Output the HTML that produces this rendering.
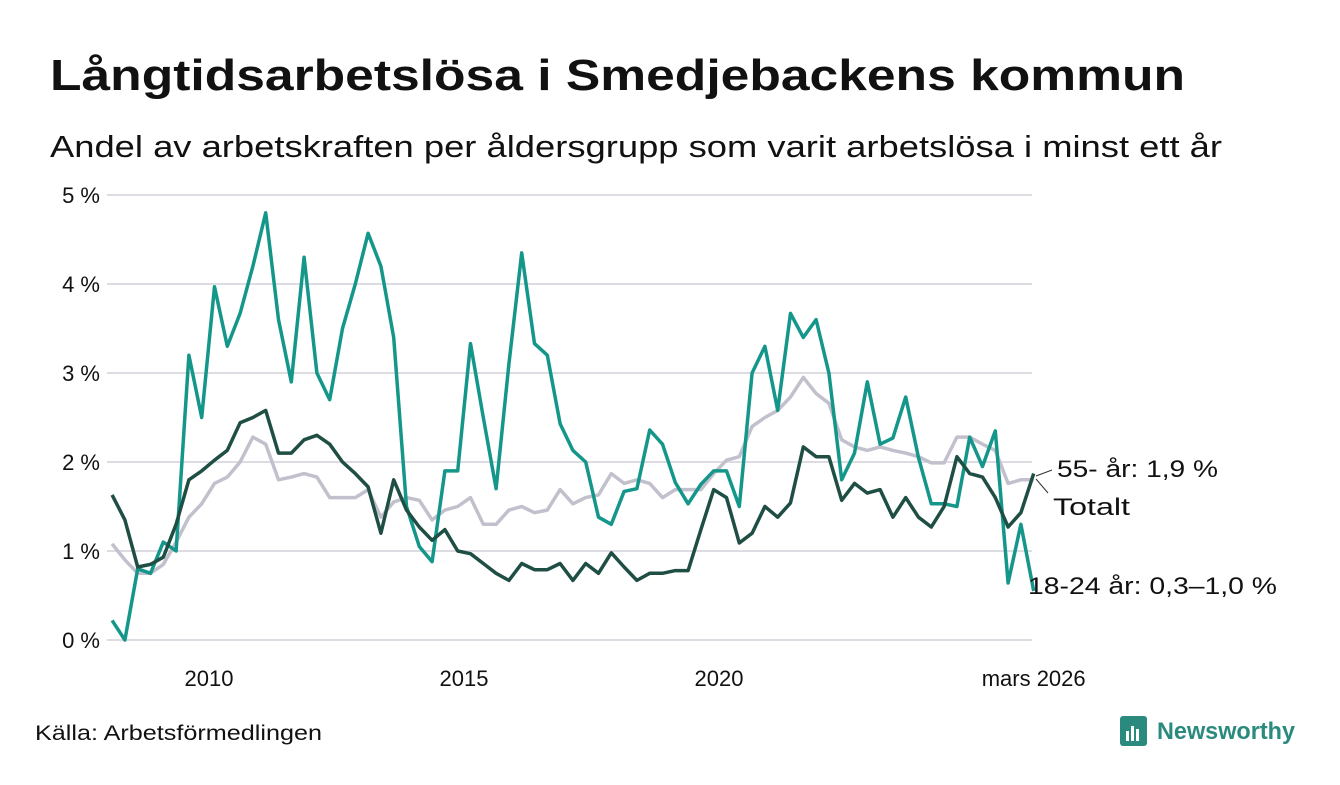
<!DOCTYPE html>
<html><head><meta charset="utf-8">
<style>
body{margin:0;background:#fff;width:1340px;height:780px;overflow:hidden;font-family:"Liberation Sans",sans-serif;}
svg text{font-family:"Liberation Sans",sans-serif;}
</style></head>
<body>
<svg id="chart" width="1340" height="780">
<text x="50" y="90" font-size="44" font-weight="bold" fill="#111" textLength="1135" lengthAdjust="spacingAndGlyphs">Långtidsarbetslösa i Smedjebackens kommun</text>
<text x="50" y="157" font-size="31" fill="#111" textLength="1172" lengthAdjust="spacingAndGlyphs">Andel av arbetskraften per åldersgrupp som varit arbetslösa i minst ett år</text>
<g id="grid"></g>
<g id="series"></g>
<g id="labels">
<line x1="1036" y1="476" x2="1052" y2="470" stroke="#333" stroke-width="1"/>
<line x1="1036" y1="479" x2="1048" y2="493" stroke="#333" stroke-width="1"/>
<text x="1057" y="477" font-size="24" fill="#111" textLength="161" lengthAdjust="spacingAndGlyphs">55- år: 1,9 %</text>
<text x="1053" y="515" font-size="24" fill="#111" textLength="77" lengthAdjust="spacingAndGlyphs">Totalt</text>
<text x="1028" y="594" font-size="24" fill="#111" textLength="249" lengthAdjust="spacingAndGlyphs">18-24 år: 0,3–1,0 %</text>
</g>
<text x="35" y="740" font-size="21" fill="#111" textLength="287" lengthAdjust="spacingAndGlyphs">Källa: Arbetsförmedlingen</text>
<g>
<rect x="1120" y="716" width="27" height="30" rx="3" fill="#2a8a7e"/>
<rect x="1126" y="731" width="3" height="10" fill="#fff"/><rect x="1131" y="726" width="3" height="15" fill="#fff"/><rect x="1136" y="729" width="3" height="12" fill="#fff"/>
<text x="1157" y="739" font-size="24" font-weight="bold" fill="#2a8a7e" textLength="138" lengthAdjust="spacingAndGlyphs">Newsworthy</text>
</g>
</svg>
<script>
const yTicks=[0,1,2,3,4,5];
const yTickLabels=["0 %","1 %","2 %","3 %","4 %","5 %"];
const xTicks=[2010,2015,2020,2026.17];
const xTickLabels=["2010","2015","2020","mars 2026"];
const startYear=2008.1, endYear=2026.17;
const youth=[0.22,0,0.8,0.75,1.1,1.0,3.2,2.5,3.97,3.3,3.67,4.2,4.8,3.6,2.9,4.3,3.0,2.7,3.5,4.0,4.57,4.2,3.4,1.5,1.05,0.88,1.9,1.9,3.33,2.5,1.7,3.1,4.35,3.33,3.2,2.43,2.13,2.0,1.38,1.3,1.67,1.7,2.36,2.2,1.77,1.53,1.75,1.9,1.9,1.5,3.0,3.3,2.58,3.67,3.4,3.6,3.0,1.8,2.1,2.9,2.2,2.27,2.73,2.05,1.53,1.53,1.5,2.28,1.95,2.35,0.64,1.3,0.55];
const total=[1.63,1.35,0.82,0.85,0.93,1.3,1.8,1.9,2.02,2.13,2.44,2.5,2.58,2.1,2.1,2.25,2.3,2.2,2.0,1.87,1.72,1.2,1.8,1.46,1.27,1.12,1.24,1.0,0.97,0.86,0.75,0.67,0.86,0.79,0.79,0.86,0.67,0.86,0.75,0.98,0.82,0.67,0.75,0.75,0.78,0.78,1.24,1.69,1.6,1.09,1.2,1.5,1.38,1.54,2.17,2.06,2.06,1.57,1.76,1.65,1.69,1.38,1.6,1.38,1.27,1.5,2.06,1.87,1.83,1.6,1.27,1.43,1.87];
const older=[1.08,0.9,0.75,0.75,0.85,1.1,1.38,1.53,1.76,1.83,2.0,2.28,2.2,1.8,1.83,1.87,1.83,1.6,1.6,1.6,1.69,1.38,1.55,1.6,1.57,1.35,1.46,1.5,1.6,1.3,1.3,1.46,1.5,1.43,1.46,1.69,1.53,1.6,1.63,1.87,1.76,1.8,1.76,1.6,1.69,1.69,1.69,1.87,2.02,2.06,2.4,2.5,2.58,2.73,2.95,2.77,2.66,2.25,2.17,2.13,2.17,2.13,2.1,2.06,1.99,1.99,2.28,2.28,2.2,2.13,1.76,1.8,1.8];
const NS="http://www.w3.org/2000/svg";
const x=t=>209+(t-2010)*51;
const y=v=>640-v*89;
const grid=document.getElementById('grid');
yTicks.forEach((v,i)=>{
  const l=document.createElementNS(NS,'line');
  l.setAttribute('x1',107);l.setAttribute('x2',1032);l.setAttribute('y1',y(v));l.setAttribute('y2',y(v));
  l.setAttribute('stroke','#dddce3');l.setAttribute('stroke-width',2);
  
  
  grid.appendChild(l);
  const t=document.createElementNS(NS,'text');
  t.setAttribute('x',100);t.setAttribute('y',y(v)+8);t.setAttribute('text-anchor','end');t.setAttribute('font-size',22);t.setAttribute('fill','#111');
  t.textContent=yTickLabels[i];
  
  
  grid.appendChild(t);
});
xTicks.forEach((v,i)=>{
  const t=document.createElementNS(NS,'text');
  t.setAttribute('x',x(v));t.setAttribute('y',686);t.setAttribute('text-anchor','middle');t.setAttribute('font-size',22);t.setAttribute('fill','#111');
  t.textContent=xTickLabels[i];
  
  
  grid.appendChild(t);
});
const ser=document.getElementById('series');
function draw(vals,color,name){
  const step=(endYear-startYear)/(vals.length-1);
  const pts=vals.map((v,i)=>x(startYear+i*step).toFixed(1)+','+y(v).toFixed(1)).join(' ');
  const p=document.createElementNS(NS,'polyline');
  p.setAttribute('points',pts);p.setAttribute('fill','none');p.setAttribute('stroke',color);
  p.setAttribute('stroke-width',3.5);p.setAttribute('stroke-linejoin','round');
  
  
  ser.appendChild(p);
}
draw(older,'#c2c0cc','line-55-plus');
draw(youth,'#14968a','line-18-24');
draw(total,'#1f4e44','line-total');
</script>
</body></html>
